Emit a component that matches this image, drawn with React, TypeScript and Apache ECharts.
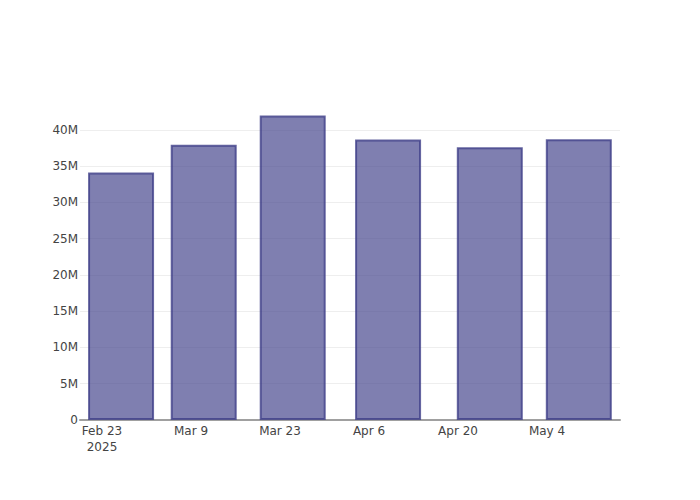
import React, { useEffect, useRef } from "react";
import * as echarts from "echarts";

const dates = ["2025-02-26", "2025-03-11", "2025-03-25", "2025-04-09", "2025-04-25", "2025-05-09"];
const values = [34.1e6, 37.95e6, 41.95e6, 38.67e6, 37.6e6, 38.7e6];
const xTickDates = ["2025-02-23", "2025-03-09", "2025-03-23", "2025-04-06", "2025-04-20", "2025-05-04"];
const yTicks = [0, 5e6, 10e6, 15e6, 20e6, 25e6, 30e6, 35e6, 40e6];
const monthNames = ["Jan", "Feb", "Mar", "Apr", "May", "Jun", "Jul", "Aug", "Sep", "Oct", "Nov", "Dec"];

const DAY = 86400000;
const ts = (s: string) => {
  const [y, m, d] = s.split("-").map(Number);
  return Date.UTC(y, m - 1, d);
};
const BASE = ts(xTickDates[0]);
const dayOf = (s: string) => Math.round((ts(s) - BASE) / DAY);

export default function App() {
  const ref = useRef<HTMLDivElement>(null);
  useEffect(() => {
    document.body.style.margin = "0";
    const chart = echarts.init(ref.current!, null, { renderer: "svg" });
    const font = "'DejaVu Sans', sans-serif";
    const xTicks = xTickDates.map(dayOf);
    chart.setOption({
      animation: false,
      grid: { left: 80, right: 80, top: 100, bottom: 80, containLabel: false },
      xAxis: {
        type: "value",
        min: -3.46,
        max: 81.48,
        axisLine: { show: true, onZero: false, lineStyle: { color: "#a0a0a0", width: 2 } },
        axisTick: { show: false, customValues: xTicks },
        splitLine: { show: false },
        axisLabel: {
          customValues: xTicks,
          color: "#444",
          fontSize: 12,
          fontFamily: font,
          margin: 3,
          lineHeight: 16,
          formatter: (v: number) => {
            const d = new Date(BASE + v * DAY);
            const s = monthNames[d.getUTCMonth()] + " " + d.getUTCDate();
            return v === 0 ? s + "\n" + d.getUTCFullYear() : s;
          },
        },
      },
      yAxis: {
        type: "value",
        min: 0,
        max: 44.1e6,
        axisLine: { show: false },
        axisTick: { show: false, customValues: yTicks },
        splitLine: { show: true, lineStyle: { color: "#eeeeee", width: 1 } },
        axisLabel: {
          customValues: yTicks,
          color: "#444",
          fontSize: 12,
          fontFamily: font,
          margin: 2,
          formatter: (v: number) => (v === 0 ? "0" : v / 1e6 + "M"),
        },
      },
      series: [
        {
          type: "bar",
          barWidth: 66,
          data: dates.map((d, i) => [dayOf(d), values[i]]),
          itemStyle: {
            color: "rgba(72,72,142,0.7)",
            borderColor: "rgba(60,60,135,0.78)",
            borderWidth: 2,
          },
        },
      ],
    });
    return () => chart.dispose();
  }, []);
  return <div ref={ref} style={{ width: 700, height: 500 }} />;
}
